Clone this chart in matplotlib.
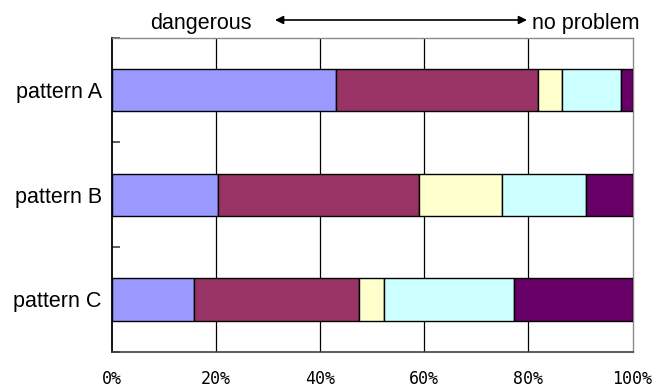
import matplotlib
matplotlib.use("Agg")
import matplotlib.pyplot as plt
import numpy as np

plt.rcParams['font.family'] = ['Liberation Sans', 'DejaVu Sans']

# Share of answers per pattern, from "dangerous" (left) to "no problem" (right), in %
categories = ["pattern A", "pattern B", "pattern C"]
level1 = [43.1, 20.5, 15.9]
level2 = [38.7, 38.5, 31.7]
level3 = [4.6, 15.9, 4.7]
level4 = [11.3, 16.1, 24.9]
level5 = [2.3, 9.0, 22.8]
series = [level1, level2, level3, level4, level5]
colors = ["#9999FF", "#993366", "#FFFFCC", "#CCFFFF", "#660066"]
xticks = [0, 20, 40, 60, 80, 100]
xtick_labels = ["0%", "20%", "40%", "60%", "80%", "100%"]

W, H = 655, 389
fig = plt.figure(figsize=(W / 100, H / 100), dpi=100)
ax = fig.add_axes([111.5 / W, (H - 351.7) / H, (632.5 - 111.5) / W, (351.7 - 37.7) / H])

y = np.arange(len(categories))
left = np.zeros(len(categories))
for vals, c in zip(series, colors):
    vals = np.array(vals)
    ax.barh(y, vals, left=left, height=0.405, color=c, edgecolor="black",
            linewidth=1.0, zorder=3)
    left += vals

ax.set_xlim(0, 100)
ax.set_ylim(2.5, -0.5)

# vertical gridlines
for gx in xticks[1:-1]:
    ax.axvline(gx, color="black", linewidth=0.9, zorder=1)

ax.set_xticks(xticks)
ax.set_xticklabels(xtick_labels, family="DejaVu Sans Mono", fontsize=12,
                   color="black")
ax.tick_params(axis="x", length=0, pad=13)

ax.set_yticks([-0.5, 0.5, 1.5, 2.5])
ax.set_yticklabels([])
ax.tick_params(axis="y", which="major", direction="in", length=6, width=1.2,
               color="#404040")
ax.set_yticks(y, minor=True)
ax.set_yticklabels(categories, minor=True, fontsize=15.5)
ax.tick_params(axis="y", which="minor", length=0, pad=7)

ax.spines["left"].set_color("black")
ax.spines["left"].set_linewidth(1.3)
ax.spines["bottom"].set_color("#404040")
ax.spines["bottom"].set_linewidth(1.2)
for s in ["top", "right"]:
    ax.spines[s].set_color("#8a8a8a")
    ax.spines[s].set_linewidth(1.0)

# header scale
fig.text(201 / W, (H - 29.5) / H, "dangerous", ha="center", va="baseline", fontsize=15.5)
fig.text(532 / W, (H - 29.5) / H, "no problem", ha="left", va="baseline", fontsize=15.5)
fig.add_artist(matplotlib.patches.FancyArrowPatch(
    (275 / W, (H - 20) / H), (527 / W, (H - 20) / H),
    transform=fig.transFigure, arrowstyle="<|-|>", mutation_scale=12,
    color="black", linewidth=1.2, shrinkA=0, shrinkB=0))

fig.savefig("out.png", dpi=100)
